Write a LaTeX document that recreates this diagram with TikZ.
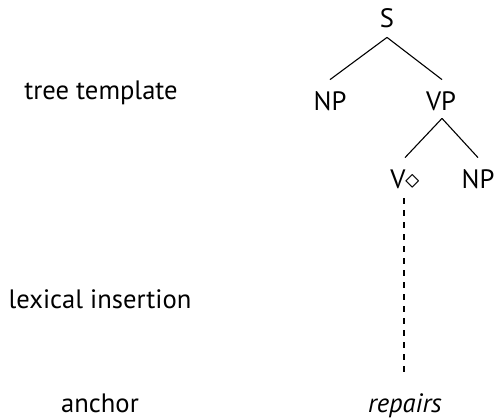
\documentclass[tikz,border=0pt]{standalone}
\usepackage{fontspec}
\setmainfont{PT Sans}
\begin{document}
\begin{tikzpicture}[x=0.5pt,y=-0.5pt,
  lab/.style={font=\fontsize{13.3}{15}\selectfont, inner sep=0pt, anchor=base, text height=8pt, text depth=0pt},
  edge/.style={line width=0.55pt},
  ins/.style={line width=0.55pt, dash pattern=on 3pt off 3pt}]
\useasboundingbox (0,0) rectangle (497,419);
% labels
\node[lab] (tt) at (101,99) {tree template};
\node[lab] (li) at (100,308) {lexical insertion};
\node[lab] (an) at (100,412) {anchor};
% tree
\node[lab] (S) at (387,27) {S};
\node[lab] (NP1) at (330,110) {NP};
\node[lab] (VP) at (441,110) {VP};
\node[lab] (V) at (405,188) {V$\diamond$};
\node[lab] (NP2) at (478,188) {NP};
\node[lab] (rep) at (405,412) {\itshape repairs};
\draw[edge] ([yshift=-5pt]S.south) -- ([yshift=7pt]NP1.north);
\draw[edge] ([yshift=-5pt]S.south) -- ([yshift=7pt,xshift=0.5pt]VP.north);
\draw[edge] ([yshift=-4pt,xshift=0.5pt]VP.south) -- ([yshift=7pt]V.north);
\draw[edge] ([yshift=-4pt,xshift=0.5pt]VP.south) -- ([yshift=7pt]NP2.north);
\draw[ins] ([yshift=-5pt,xshift=-0.5pt]V.south) -- ([yshift=9.5pt,xshift=-0.5pt]rep.north);
\end{tikzpicture}
\end{document}
